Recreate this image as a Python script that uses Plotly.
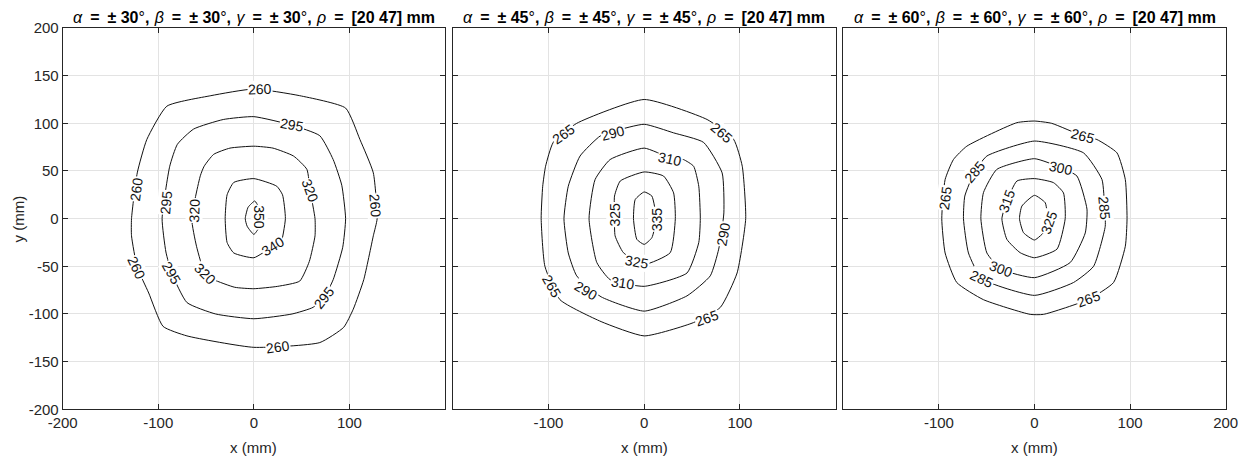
import plotly.graph_objects as go

# ---------------- data ----------------
ANGLES = [30, 45, 60]
RHO = "[20 47]"

# Panel 1 : alpha = beta = gamma = +-30 deg
P30_C260 = [(0, 136), (-45, 129), (-91, 118), (-112, 83), (-122, 48), (-128, 0), (-128, -18), (-122, -51),
            (-110, -78), (-95, -113), (-70, -123), (0, -135), (69, -130), (94, -114), (104, -95),
            (115, -64), (125, -18), (129, 0), (125, 48), (111, 83), (96, 116), (48, 129), (0, 136)]
P30_C295 = [(0, 107), (-32, 104), (-63, 94), (-80, 78), (-88, 55), (-96, 0), (-92, -35), (-86, -57),
            (-70, -88), (-40, -100), (0, -105), (40, -100), (62, -93), (75, -80), (83, -64),
            (93, -30), (96, 0), (92, 35), (83, 62), (69, 87), (40, 98), (0, 107)]
P30_C320 = [(0, 76), (-25, 74), (-42, 67.5), (-52, 55), (-56, 45), (-65, 0), (-60, -29), (-51, -58),
            (-42, -64), (-20, -72), (0, -73.5), (25, -71), (48, -65.5), (58, -45), (64, -18), (64, 0),
            (59, 29), (55.5, 51.7), (41.5, 65.7), (20, 74), (0, 76)]
P30_C340 = [(0, 42), (-21, 38), (-28, 25), (-30, 0), (-28, -25), (-21, -36), (0, -41), (20.5, -29),
            (27.5, -28), (33, 0), (30, 25), (24, 34), (0, 42)]
P30_C350 = [(1, 18.5), (-6, 12), (-9, 0), (-7, -8), (0, -16.5), (5, -10), (6.5, 0), (5, 12), (1, 18.5)]
P30_LEVELS = [260, 295, 320, 340, 350]
P30_LABEL_TEXT = ["260", "295", "260", "295", "320", "320", "260", "350", "340", "260", "295", "320", "295", "260"]
P30_LABEL_X = [6.6, 40.4, -122.5, -92.2, -62.2, 59, 127, 5.9, 20.5, -122.5, -85.9, -51, 72.9, 25.1]
P30_LABEL_Y = [136.4, 97.9, 30.7, 16.8, 9, 29, 13.2, 1, -28.7, -51.4, -56.7, -58.4, -82.9, -134.7]
P30_LABEL_ANGLE = [-2, 10, -82, -85, -88, 70, 85, 90, -32, 65, 60, 45, -52, -8]

# Panel 2 : alpha = beta = gamma = +-45 deg
P45_C265 = [(0, 125), (-70.5, 100), (-95, 80), (-103, 55), (-106, 34), (-107.6, 0), (-103.7, -50),
            (-88, -85), (-45, -108), (0, -123), (51.6, -109), (79.6, -93), (97, -57), (106, 0),
            (102.4, 55), (93.5, 83), (65.7, 104), (0, 125)]
P45_C290 = [(0, 99), (-30.7, 92), (-46, 86.7), (-67, 65.7), (-79.3, 34), (-83.8, 0), (-79.3, -36),
            (-70.5, -60), (-45, -82), (0, -97), (44.7, -81), (69, -60), (77.8, -32), (83.2, 6),
            (81.4, 48), (62, 80), (30.7, 90), (0, 99)]
P45_C310 = [(0, 74), (-35.6, 62), (-51.3, 41), (-57.6, 0), (-49.5, -46), (-35.6, -64), (0, -71),
            (44.7, -57), (57, -25), (58.6, 0), (57, 34), (51.6, 55), (41, 62), (26.6, 64), (0, 74)]
P45_C325 = [(0, 49), (-25, 39.5), (-31, 23.7), (-31, 0), (-30.4, -18), (-21.7, -35.7), (0, -48),
            (27.2, -35.7), (32.5, 0), (30.7, 27), (20.2, 44.7), (0, 49)]
P45_C335 = [(0, 28), (-9.4, 20), (-11.2, 0), (-7.7, -21.7), (0, -27), (8, -20), (12.5, 0), (8, 23.7), (0, 28)]
P45_LEVELS = [265, 290, 310, 325, 335]
P45_LABEL_TEXT = ["265", "290", "265", "310", "325", "335", "290", "325", "310", "290", "265", "265"]
P45_LABEL_X = [-83.8, -32.1, 81.4, 26.6, -30.4, 13.3, 83.1, -7.7, -21.7, -60.3, -96.7, 65.7]
P45_LABEL_Y = [88.5, 90.2, 90.2, 62.2, 4.5, -0.7, -16.5, -45.5, -67.2, -76, -70.7, -103.9]
P45_LABEL_ANGLE = [-35, -15, 40, 12, -90, -90, -80, 10, 8, 30, 60, -20]

# Panel 3 : alpha = beta = gamma = +-60 deg
P60_C265 = [(0, 102.4), (-18.4, 100.7), (-70.8, 76), (-84.8, 62), (-93.5, 41), (-97, 0), (-93.5, -36),
            (-81.3, -67), (-53.4, -85), (-4.5, -100.4), (9.4, -100.4), (56.5, -84.7), (82.7, -67),
            (95, -29), (96.8, 0), (95, 41), (86.3, 69), (65.3, 83), (50, 87), (18, 100), (0, 102.4)]
P60_C285 = [(0, 81.4), (-49.8, 65.7), (-62.7, 49), (-72.9, 23.7), (-74.3, 0), (-69.1, -36), (-55.1, -63),
            (0, -80.5), (40.8, -67), (61.8, -50), (74, -8), (73.3, 11.5), (70.6, 41), (51.3, 69), (0, 81.4)]
P60_C300 = [(0, 62.9), (-39.4, 51.7), (-53.4, 27.3), (-56.1, 0), (-49.8, -36), (-34.9, -53), (0, -61.9),
            (37.4, -46), (53.1, -15), (54.9, 10), (44.4, 44.7), (27.6, 53.5), (0, 62.9)]
P60_C315 = [(0, 42), (-18.4, 39.5), (-28.9, 18.5), (-34.1, 0), (-28.9, -21.7), (-15, -35.7), (0, -41),
            (23.5, -32), (32.1, 0), (30.3, 27), (19.8, 37.8), (0, 42)]
P60_C325 = [(0, 24.5), (-13.2, 13.2), (-15.7, 0), (-11.5, -14.7), (0, -22.4), (12, -12), (14.5, -4),
            (13, 8), (11.2, 16.8), (0, 24.5)]
P60_LEVELS = [265, 285, 300, 315, 325]
P60_LABEL_TEXT = ["265", "285", "300", "265", "315", "285", "325", "300", "285", "265"]
P60_LABEL_X = [50.3, -62.7, 27.6, -93.5, -28.9, 73.3, 14.7, -34.9, -55.1, 56.5]
P60_LABEL_Y = [86.7, 48.9, 53.5, 22, 18.5, 11.5, -4.2, -53.2, -63, -84.7]
P60_LABEL_ANGLE = [15, -50, 12, -82, -70, 85, -70, 20, 25, -20]

X_TICKS = [-200, -100, 0, 100, 200]
Y_TICKS = [-200, -150, -100, -50, 0, 50, 100, 150, 200]

PANELS = [
    (ANGLES[0], [P30_C260, P30_C295, P30_C320, P30_C340, P30_C350],
     P30_LABEL_TEXT, P30_LABEL_X, P30_LABEL_Y, P30_LABEL_ANGLE, ["-200", "-100", "0", "100", ""]),
    (ANGLES[1], [P45_C265, P45_C290, P45_C310, P45_C325, P45_C335],
     P45_LABEL_TEXT, P45_LABEL_X, P45_LABEL_Y, P45_LABEL_ANGLE, ["", "-100", "0", "100", ""]),
    (ANGLES[2], [P60_C265, P60_C285, P60_C300, P60_C315, P60_C325],
     P60_LABEL_TEXT, P60_LABEL_X, P60_LABEL_Y, P60_LABEL_ANGLE, ["", "-100", "0", "100", "200"]),
]

# ---------------- layout ----------------
OFF = 8                       # default page (body) margin of the html page
PAGE_W, PAGE_H = 1254, 460
W, H = PAGE_W - OFF, PAGE_H - OFF
X_DOMAINS = [(62.7, 445.0), (452.7, 835.7), (843.3, 1225.7)]   # page pixels
Y_TOP, Y_BOT = 28.0, 409.3                                      # page pixels
FONT = "Liberation Sans, Arial, Helvetica, sans-serif"
AXIS_COLOR = "#262626"
GRID_COLOR = "#e3e3e3"
EN = "\u2002"
TH = "\u2004"


def fx(px):
    return (px - OFF) / W


def fy(py):
    return 1 - (py - OFF) / H


fig = go.Figure()
annotations = []

for i, (ang, contours, ltext, lx, ly, lang, xticktext) in enumerate(PANELS):
    n = "" if i == 0 else str(i + 1)
    xa, ya = "x" + n, "y" + n
    for c in contours:
        fig.add_trace(go.Scatter(
            x=[p[0] for p in c], y=[p[1] for p in c], mode="lines",
            line=dict(color="#111111", width=1, shape="spline", smoothing=0.5),
            xaxis=xa, yaxis=ya, showlegend=False, hoverinfo="skip"))
    for t, x, y, a in zip(ltext, lx, ly, lang):
        annotations.append(dict(
            x=x, y=y, xref=xa, yref=ya, text=t, textangle=a, showarrow=False,
            font=dict(family=FONT, size=14, color="#111111"),
            bgcolor="white", borderpad=0, xanchor="center", yanchor="middle"))

    d0, d1 = X_DOMAINS[i]
    xkey = "xaxis" + n
    ykey = "yaxis" + n
    fig.layout[xkey] = dict(
        domain=[fx(d0), fx(d1)], range=[-200, 200], anchor=ya, automargin=False,
        tickvals=X_TICKS, ticktext=xticktext, ticks="inside", ticklen=5,
        tickcolor=AXIS_COLOR, showline=True, linecolor=AXIS_COLOR, linewidth=1, mirror="ticks",
        showgrid=True, gridcolor=GRID_COLOR, gridwidth=1, zeroline=False,
        tickfont=dict(family=FONT, size=15, color=AXIS_COLOR), fixedrange=True)
    fig.layout[ykey] = dict(
        domain=[fy(Y_BOT), fy(Y_TOP)], range=[-200, 200], anchor=xa, automargin=False,
        tickvals=Y_TICKS, ticktext=[str(v) for v in Y_TICKS], showticklabels=(i == 0),
        ticks="inside", ticklen=5, tickcolor=AXIS_COLOR,
        showline=True, linecolor=AXIS_COLOR, linewidth=1, mirror="ticks",
        showgrid=True, gridcolor=GRID_COLOR, gridwidth=1, zeroline=False,
        tickfont=dict(family=FONT, size=15, color=AXIS_COLOR), fixedrange=True)

    seg = lambda g: f"<i>{g}</i><b>{EN}={EN}± {ang}</b>°<b>,{TH}</b>"
    title = seg("α") + seg("β") + seg("γ") + f"<i>ρ</i><b>{EN}={EN}{RHO} mm</b>"
    annotations.append(dict(
        x=fx((d0 + d1) / 2), y=1, xref="paper", yref="paper", text=title,
        showarrow=False, xanchor="center", yanchor="top", borderpad=0,
        font=dict(family=FONT, size=16, color="#000000")))
    annotations.append(dict(
        x=fx((d0 + d1) / 2), y=fy(447), xref="paper", yref="paper", text="x (mm)",
        showarrow=False, xanchor="center", yanchor="middle",
        font=dict(family=FONT, size=15, color=AXIS_COLOR)))

annotations.append(dict(
    x=0, y=fy(219), xref="paper", yref="paper", text="y (mm)", textangle=-90,
    showarrow=False, xanchor="left", yanchor="middle", borderpad=0,
    font=dict(family=FONT, size=15, color=AXIS_COLOR)))

fig.update_layout(
    width=W, height=H, margin=dict(l=0, r=0, t=0, b=0),
    paper_bgcolor="white", plot_bgcolor="white",
    annotations=annotations, showlegend=False)

fig.write_html("out.html")
